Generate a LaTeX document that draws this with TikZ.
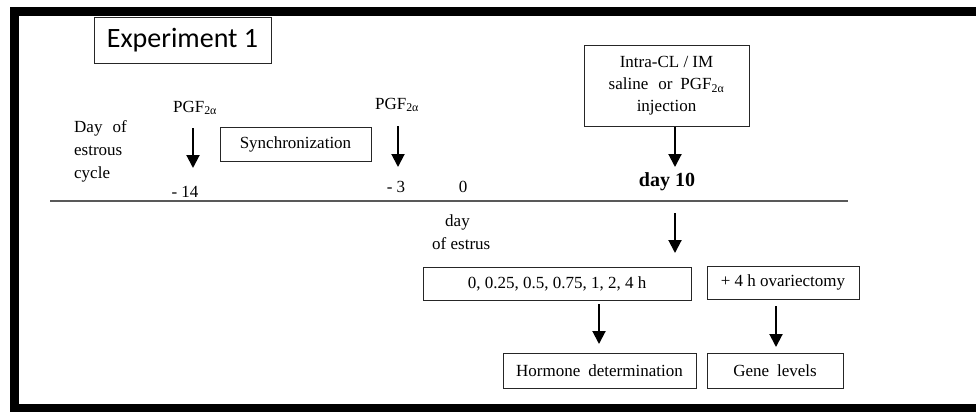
\documentclass[tikz,border=0pt]{standalone}
\usepackage{fontspec}
\setmainfont{Liberation Serif}
\newfontfamily\calib{Carlito}
\usetikzlibrary{arrows.meta}
\tikzset{
  boxnode/.style={draw=black!85, line width=1pt, inner sep=0pt, font=\fontsize{17}{22}\selectfont},
  txt/.style={inner sep=0pt, font=\fontsize{17}{23}\selectfont},
  darrow/.style={line width=2pt, -{Triangle[width=13pt,length=13pt]}},
  frame/.style={fill=black}
}
\begin{document}
\begin{tikzpicture}[x=1pt,y=-1pt]
\useasboundingbox (0,0) rectangle (976,412);
\fill[white] (0,0) rectangle (976,412);
% outer frame (cut at the right)
\fill[frame] (10,7) rectangle (976,16);
\fill[frame] (10,7) rectangle (19,412);
\fill[frame] (10,404) rectangle (976,412);

% title
\node[draw=black!85, line width=1pt, minimum width=177pt, minimum height=45pt, inner sep=0pt,
      font=\calib\fontsize{28}{30}\selectfont] (exp) at (182.5,40.5) {Experiment 1};

% left legend
\node[txt, align=left, anchor=north west] (dayof) at (74,120) {Day\hspace{10pt}of\\estrous\\cycle};

% first PGF
\node[txt] (pgf1) at (195,108) {PGF\textsubscript{2α}};
\coordinate (a1s) at (193,128);
\coordinate (a1e) at (193,168);
\draw[darrow] (a1s) -- (a1e);
\node[txt] (m14) at (185,192) {- 14};

% synchronization
\node[boxnode, minimum width=151pt, minimum height=34pt] (sync) at (295.5,144) {Synchronization};

% second PGF
\node[txt] (pgf2) at (397,105) {PGF\textsubscript{2α}};
\coordinate (a2s) at (398,126);
\coordinate (a2e) at (398,167);
\draw[darrow] (a2s) -- (a2e);
\node[txt] (m3) at (396,187) {- 3};
\node[txt] (zero) at (463,187) {0};

% injection box
\node[boxnode, minimum width=165pt, minimum height=80pt, align=center] (inj) at (666.5,86)
  {Intra-CL / IM\\saline\hspace{10pt}or\hspace{8pt}PGF\textsubscript{2α}\\injection};
\coordinate (a3s) at (inj.south -| 675,0);
\coordinate (a3e) at (675,167);
\draw[darrow] (a3s) -- (a3e);
\node[txt, font=\bfseries\fontsize{20}{24}\selectfont] (day10) at (667,182) {day 10};

% time line
\coordinate (l1) at (50,201);
\coordinate (l2) at (848,201);
\draw[line width=1.3pt, black!65] (l1) -- (l2);

% below line
\node[txt, align=left, anchor=north west] (estrus) at (432,215) {\hspace{13pt}day\\of estrus};
\coordinate (a4s) at (675,213);
\coordinate (a4e) at (675,253);
\draw[darrow] (a4s) -- (a4e);

\node[boxnode, minimum width=268pt, minimum height=33pt] (times) at (557,283.5) {0, 0.25, 0.5, 0.75, 1, 2, 4 h};
\node[boxnode, minimum width=152pt, minimum height=33pt] (ovx) at (783,282.5) {+ 4 h ovariectomy};

\coordinate (a5s) at (599,304);
\coordinate (a5e) at (599,344);
\draw[darrow] (a5s) -- (a5e);
\coordinate (a6s) at (776,306);
\coordinate (a6e) at (776,347);
\draw[darrow] (a6s) -- (a6e);

\node[boxnode, minimum width=193pt, minimum height=35pt] (horm) at (599.5,370.5) {Hormone\hspace{8pt}determination};
\node[boxnode, minimum width=136pt, minimum height=35pt] (gene) at (775,370.5) {Gene\hspace{8pt}levels};
\end{tikzpicture}
\end{document}
